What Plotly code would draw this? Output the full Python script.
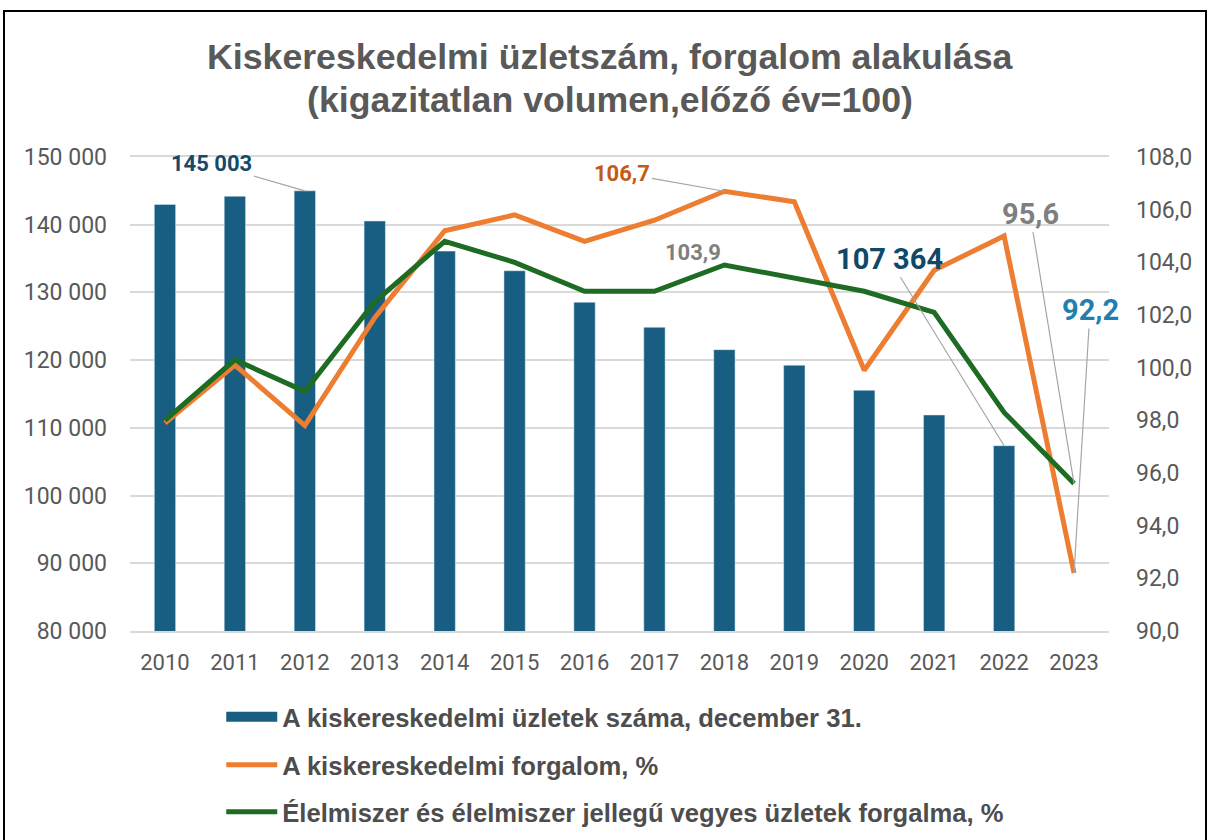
import plotly.graph_objects as go

years = ["2010", "2011", "2012", "2013", "2014", "2015", "2016",
         "2017", "2018", "2019", "2020", "2021", "2022", "2023"]
stores = [143000, 144200, 145003, 140550, 136100, 133200, 128550,
          124850, 121550, 119250, 115550, 111900, 107364, None]
retail_turnover = [97.9, 100.1, 97.8, 101.9, 105.2, 105.8, 104.8,
                   105.6, 106.7, 106.3, 99.9, 103.7, 105.0, 92.2]
food_turnover = [98.0, 100.3, 99.1, 102.5, 104.8, 104.0, 102.9,
                 102.9, 103.9, 103.4, 102.9, 102.1, 98.3, 95.6]

name_bar = "A kiskereskedelmi üzletek száma, december 31."
name_retail = "A kiskereskedelmi forgalom, %"
name_food = "Élelmiszer és élelmiszer jellegű vegyes üzletek forgalma, %"

BLUE = "#175E82"
ORANGE = "#ED7D31"
GREEN = "#1E6B24"
TXT = "#595959"
GRID = "#D9D9D9"
FONT = "Liberation Sans, Arial, sans-serif"
TICKFONT = "Roboto, Liberation Sans, sans-serif"

fig = go.Figure()
fig.add_trace(go.Bar(x=years, y=stores, name=name_bar, marker_color=BLUE,
                     yaxis="y", showlegend=False))
# legend entry for the bars (wide rectangle like the original legend key)
fig.add_trace(go.Scatter(x=[None], y=[None], name=name_bar, mode="lines",
                         line=dict(color=BLUE, width=14), yaxis="y", legend="legend"))
fig.add_trace(go.Scatter(x=years, y=retail_turnover, name=name_retail, mode="lines",
                         line=dict(color=ORANGE, width=5), yaxis="y2", legend="legend2"))
fig.add_trace(go.Scatter(x=years, y=food_turnover, name=name_food, mode="lines",
                         line=dict(color=GREEN, width=5), yaxis="y2", legend="legend3"))

legfont = dict(family=FONT, size=25.6, color="#4D4D4D", weight="bold")
leg_common = dict(x=0.0932, xanchor="left", yanchor="middle", yref="container",
                  font=legfont, bgcolor="rgba(0,0,0,0)", itemwidth=51)

def xi(year):
    return years.index(year)

ann_common = dict(showarrow=True, arrowhead=0, arrowwidth=1.2, arrowcolor="#A6A6A6",
                  standoff=0)
annotations = [
    dict(text="Kiskereskedelmi üzletszám, forgalom alakulása", xref="paper", yref="paper",
         x=0.4903, y=1.211, showarrow=False, xanchor="center", yanchor="middle",
         font=dict(family=FONT, size=35.7, color=TXT, weight="bold")),
    dict(text="(kigazitatlan volumen,előző év=100)", xref="paper", yref="paper",
         x=0.4903, y=1.1203, showarrow=False, xanchor="center", yanchor="middle",
         font=dict(family=FONT, size=35.7, color=TXT, weight="bold")),
    dict(text="145 003", x=xi("2012"), y=stores[2], xref="x", yref="y", ax=-93, ay=-27,
         font=dict(family=TICKFONT, size=22, color="#164A6B", weight="bold"), **ann_common),
    dict(text="106,7", x=xi("2018"), y=retail_turnover[8], xref="x", yref="y2", ax=-102, ay=-18,
         font=dict(family=TICKFONT, size=22, color="#C55A11", weight="bold"), **ann_common),
    dict(text="103,9", x=xi("2018"), y=food_turnover[8], xref="x", yref="y2", showarrow=False,
         xshift=-31, yshift=12,
         font=dict(family=TICKFONT, size=22, color="#7F7F7F", weight="bold")),
    dict(text="107 364", x=xi("2022"), y=stores[12], xref="x", yref="y", ax=-115, ay=-187,
         font=dict(family=TICKFONT, size=29, color="#0F4868", weight="bold"), **ann_common),
    dict(text="95,6", x=xi("2023"), y=food_turnover[13], xref="x", yref="y2", ax=-44, ay=-270,
         font=dict(family=TICKFONT, size=29, color="#7F7F7F", weight="bold"), **ann_common),
    dict(text="92,2", x=xi("2023"), y=retail_turnover[13], xref="x", yref="y2", ax=16, ay=-263,
         font=dict(family=TICKFONT, size=29, color="#1F80B0", weight="bold"), **ann_common),
]

fig.update_layout(
    width=1208, height=840,
    margin=dict(l=130, r=99, t=157, b=209, autoexpand=False),
    paper_bgcolor="white", plot_bgcolor="white",
    separators=", ",
    bargap=0.695,
    showlegend=True,
    legend=dict(y=1 - 717 / 840, **leg_common),
    legend2=dict(y=1 - 765 / 840, **leg_common),
    legend3=dict(y=1 - 812 / 840, **leg_common),
    xaxis=dict(type="category", range=[-0.5, len(years) - 0.5], showgrid=False,
               showline=True, mirror=True, linecolor=GRID, linewidth=1.5, ticks="",
               tickfont=dict(family=TICKFONT, size=22, color=TXT), ticklabelstandoff=11),
    yaxis=dict(range=[80000, 150000], dtick=10000, tickformat=",d",
               showgrid=True, gridcolor=GRID, gridwidth=1.5, zeroline=False,
               showline=False, ticks="", ticklabelstandoff=22,
               tickfont=dict(family=TICKFONT, size=23, color=TXT)),
    yaxis2=dict(range=[90, 108], dtick=2, tickformat=".1f", overlaying="y", side="right",
                showgrid=False, zeroline=False, showline=False, ticks="", ticklabelstandoff=26,
                tickfont=dict(family=TICKFONT, size=23, color=TXT)),
    annotations=annotations,
    shapes=[dict(type="rect", xref="paper", yref="paper",
                 x0=(4 - 130) / 979, x1=(1206 - 130) / 979,
                 y0=(631 - 850) / 474, y1=(631 - 11) / 474,
                 line=dict(color="black", width=2), fillcolor="rgba(0,0,0,0)", layer="below")],
)

fig.write_html("out.html", config={"displayModeBar": False},
               post_script="document.body.style.margin='0';")
